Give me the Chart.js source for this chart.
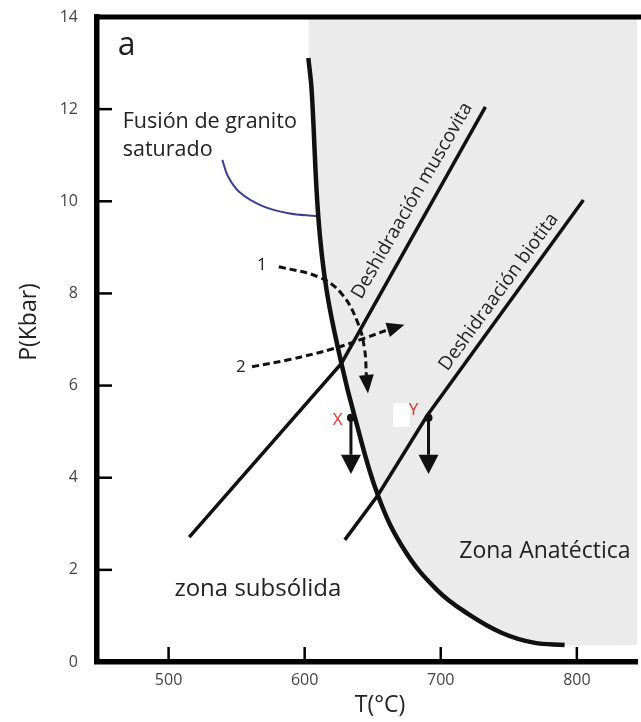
<!DOCTYPE html>
<html lang="es">
<head>
<meta charset="UTF-8">
<title>Diagrama P-T</title>
<script src="https://cdn.jsdelivr.net/npm/chart.js"></script>
<style>
  html, body { margin: 0; padding: 0; background: #fff; }
  #wrap { width: 641px; height: 722px; }
</style>
</head>
<body>
<div id="wrap"><canvas id="grafico" width="641" height="722"></canvas></div>
<script>
// ejes
var xTicks = [500, 600, 700, 800];
var yTicks = [0, 2, 4, 6, 8, 10, 12, 14];

// curva de fusion (solidus)
var solidusT = [602.7, 605.1, 610.0, 616.1, 627.0, 636.8, 653.8, 673.3, 697.7, 720.3, 745.0, 768.3, 791.0];
var solidusP = [13.11, 12.42, 9.67, 8.07, 6.48, 5.32, 3.62, 2.43, 1.55, 1.04, 0.63, 0.42, 0.37];

// deshidratacion
var muscT = [515.2, 627.0, 732.8];
var muscP = [2.71, 6.48, 12.05];
var bioT = [629.5, 653.8, 690.3, 804.8];
var bioP = [2.65, 3.62, 5.36, 10.03];

// linea azul al texto
var azulT = [539.5, 543.5, 552.0, 568.7, 588.1, 608.8];
var azulP = [10.90, 10.55, 10.20, 9.90, 9.74, 9.68];

// trayectorias 1 y 2 (el ultimo punto es la punta de la flecha)
var tray1T = [581.0, 610.0, 627.0, 639.2, 644.1, 645.3, 646.5];
var tray1P = [8.58, 8.36, 8.00, 7.35, 6.77, 6.23, 5.83];
var tray2T = [561.3, 588.1, 622.2, 644.1, 661.0, 673.3];
var tray2P = [6.41, 6.56, 6.81, 7.03, 7.21, 7.32];

// flechas X e Y: punto, base de la punta, punta
var flechaXT = [634, 634, 634];
var flechaYT = [691, 691, 691];
var flechaP = [5.3, 4.5, 4.08];

var canvas = document.getElementById("grafico");
var ctx = canvas.getContext("2d");

function puntos(ts, ps) {
  return ts.map(function (t, i) { return { x: t, y: ps[i] }; });
}

var fuente = "'Open Sans', 'DejaVu Sans', sans-serif";

function linea(data, opts) {
  var base = {
    data: data,
    showLine: true,
    pointRadius: 0,
    borderColor: "#111",
    borderWidth: 3.5,
    fill: false,
    tension: 0,
    order: 1
  };
  return Object.assign(base, opts || {});
}

function punta(c, bx, by, tx, ty, ancho) {
  var dx = tx - bx, dy = ty - by;
  var len = Math.sqrt(dx * dx + dy * dy);
  var nx = -dy / len, ny = dx / len;
  c.beginPath();
  c.moveTo(tx, ty);
  c.lineTo(bx + nx * ancho / 2, by + ny * ancho / 2);
  c.lineTo(bx - nx * ancho / 2, by - ny * ancho / 2);
  c.closePath();
  c.fill();
}

var decor = {
  id: "decor",
  afterDatasetsDraw: function (chart) {
    var c = chart.ctx;
    var sx = chart.scales.x, sy = chart.scales.y;
    var px = function (t) { return sx.getPixelForValue(t); };
    var py = function (p) { return sy.getPixelForValue(p); };
    c.save();
    c.fillStyle = "#111";

    // puntas de las flechas
    [[tray1T, tray1P, 15], [tray2T, tray2P, 15], [flechaXT, flechaP, 20], [flechaYT, flechaP, 20]].forEach(function (f) {
      var n = f[0].length - 1;
      punta(c, px(f[0][n - 1]), py(f[1][n - 1]), px(f[0][n]), py(f[1][n]), f[2]);
    });

    // mancha blanca tras Y
    c.fillStyle = "#fff";
    c.fillRect(px(665), py(5.62), px(677.3) - px(665), py(5.10) - py(5.62));

    // textos
    c.fillStyle = "#222";
    c.textBaseline = "alphabetic";
    c.textAlign = "left";
    c.font = "32px " + fuente;
    c.fillText("a", px(462.7), py(13.18));
    c.font = "21.5px " + fuente;
    c.fillText("Fusión de granito", px(466.3), py(11.59));
    c.fillText("saturado", px(466.3), py(10.98));
    c.font = "24px " + fuente;
    c.fillText("zona subsólida", px(504.3), py(1.43));
    c.font = "23px " + fuente;
    c.fillText("Zona Anatéctica", px(713.6), py(2.26));

    c.font = "17px " + fuente;
    c.textAlign = "center";
    c.textBaseline = "middle";
    c.fillText("1", px(568.5), py(8.62));
    c.fillText("2", px(553.2), py(6.40));

    c.fillStyle = "#e8302a";
    c.font = "17px " + fuente;
    c.fillText("X", px(624.2), py(5.25));
    c.fillText("Y", px(680), py(5.47));

    c.fillStyle = "#222";
    c.textAlign = "left";
    c.textBaseline = "alphabetic";
    c.font = "19px " + fuente;
    c.save();
    c.translate(px(641.5), py(7.86));
    c.rotate(-60 * Math.PI / 180);
    c.fillText("Deshidraación muscovita", 0, 0);
    c.restore();
    c.save();
    c.translate(px(705), py(6.3));
    c.rotate(-54 * Math.PI / 180);
    c.fillText("Deshidraación biotita", 0, 0);
    c.restore();
    c.restore();
  },
  afterDraw: function (chart) {
    var c = chart.ctx;
    var a = chart.chartArea;
    var sx = chart.scales.x, sy = chart.scales.y;
    c.save();
    c.strokeStyle = "#000";

    // marco superior
    c.lineWidth = 5;
    c.beginPath();
    c.moveTo(a.left - 2.75, a.top);
    c.lineTo(chart.width, a.top);
    c.stroke();

    // marcas hacia dentro
    c.lineWidth = 2.5;
    yTicks.forEach(function (v) {
      if (v === 0 || v === 14) return;
      var y = sy.getPixelForValue(v);
      c.beginPath();
      c.moveTo(a.left, y);
      c.lineTo(a.left + 15, y);
      c.stroke();
    });
    xTicks.forEach(function (v) {
      var x = sx.getPixelForValue(v);
      c.beginPath();
      c.moveTo(x, a.bottom);
      c.lineTo(x, a.bottom - 15);
      c.stroke();
    });

    // titulos de ejes
    c.fillStyle = "#222";
    c.font = "23px " + fuente;
    c.textAlign = "center";
    c.textBaseline = "middle";
    c.fillText("T(°C)", 380, 705);
    c.translate(29, 322);
    c.rotate(-Math.PI / 2);
    c.fillText("P(Kbar)", 0, 0);
    c.restore();
  }
};

new Chart(ctx, {
  type: "scatter",
  data: {
    datasets: [
      {
        data: puntos(solidusT.concat([844.2]), solidusP.concat([0.37])),
        showLine: true,
        pointRadius: 0,
        borderWidth: 0,
        borderColor: "rgba(0,0,0,0)",
        backgroundColor: "#ebebeb",
        fill: "end",
        tension: 0.4,
        order: 10
      },
      linea(puntos(solidusT, solidusP), { borderWidth: 4.5, tension: 0.4 }),
      linea(puntos(muscT, muscP)),
      linea(puntos(bioT, bioP)),
      linea(puntos(azulT, azulP), { borderColor: "#3c3f8f", borderWidth: 2, tension: 0.4 }),
      linea(puntos(tray1T.slice(0, -1), tray1P.slice(0, -1)), { borderWidth: 3, borderDash: [7, 4], tension: 0.4 }),
      linea(puntos(tray2T.slice(0, -1), tray2P.slice(0, -1)), { borderWidth: 3, borderDash: [7, 4], tension: 0.4 }),
      linea(puntos(flechaXT.slice(0, -1), flechaP.slice(0, -1)), { borderWidth: 3, pointRadius: [4, 0], pointBackgroundColor: "#111", pointBorderWidth: 0 }),
      linea(puntos(flechaYT.slice(0, -1), flechaP.slice(0, -1)), { borderWidth: 3, pointRadius: [4, 0], pointBackgroundColor: "#111", pointBorderWidth: 0 })
    ]
  },
  options: {
    responsive: false,
    devicePixelRatio: 1,
    animation: false,
    layout: { padding: { top: 17, right: 0, bottom: 0, left: 0 } },
    plugins: { legend: { display: false }, tooltip: { enabled: false } },
    scales: {
      x: {
        type: "linear",
        min: 447.4,
        max: 844.2,
        grid: { display: false, drawTicks: false },
        border: { display: true, color: "#000", width: 5.5 },
        ticks: { color: "#444", padding: 9, font: { family: fuente, size: 16 } },
        afterBuildTicks: function (s) { s.ticks = xTicks.map(function (v) { return { value: v }; }); },
        afterFit: function (s) { s.height = 60; s.paddingLeft = 0; s.paddingRight = 0; }
      },
      y: {
        type: "linear",
        min: 0,
        max: 14,
        grid: { display: false, drawTicks: false },
        border: { display: true, color: "#000", width: 5.5 },
        ticks: { color: "#444", padding: 19, font: { family: fuente, size: 16 } },
        afterBuildTicks: function (s) { s.ticks = yTicks.map(function (v) { return { value: v }; }); },
        afterFit: function (s) { s.width = 97; s.paddingTop = 0; s.paddingBottom = 0; }
      }
    }
  },
  plugins: [decor]
});
</script>
</body>
</html>
